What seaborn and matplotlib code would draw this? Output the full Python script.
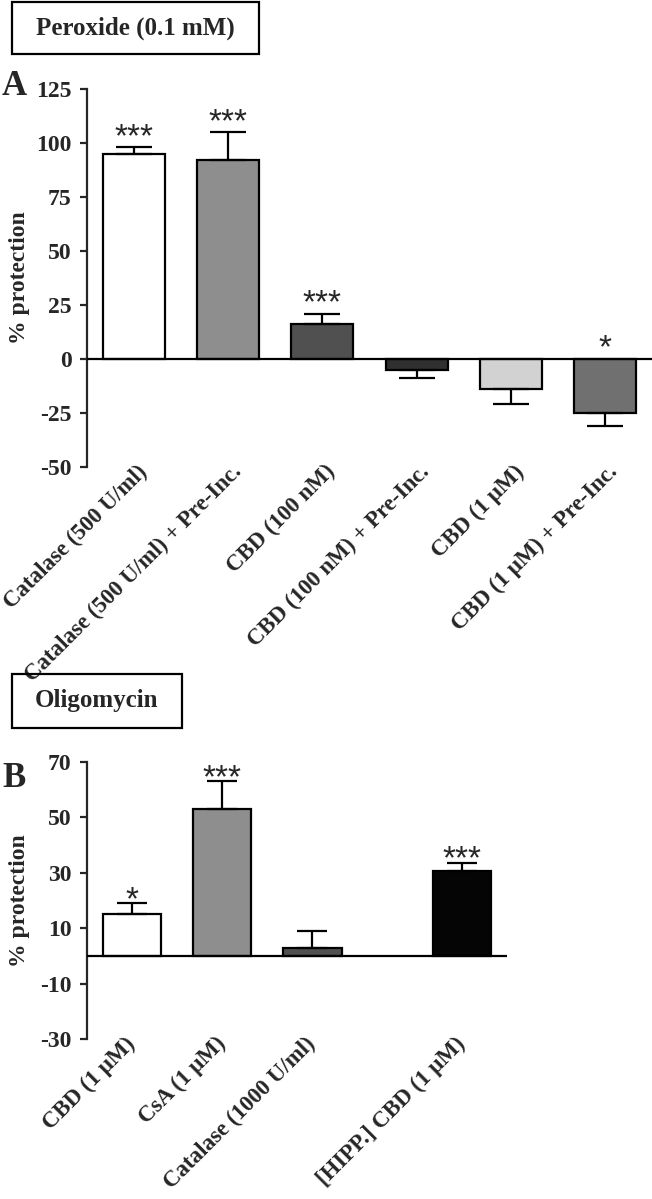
import numpy as np
import pandas as pd
import matplotlib
matplotlib.use("Agg")
import matplotlib.pyplot as plt
import matplotlib.transforms as mtransforms
import seaborn as sns
from matplotlib.patches import Rectangle

# panel A: peroxide (0.1 mM)
a_labels = ["Catalase (500 U/ml)", "Catalase (500 U/ml) + Pre-Inc.", "CBD (100 nM)",
            "CBD (100 nM) + Pre-Inc.", "CBD (1 \u03bcM)", "CBD (1 \u03bcM) + Pre-Inc."]
a_values = [95, 92, 16, -5, -14, -25]
a_errors = [3, 13, 5, 4, 7, 6]
a_stars = ["***", "***", "***", "", "", "*"]
a_colors = ["#ffffff", "#8e8e8e", "#505050", "#303030", "#d2d2d2", "#707070"]

# panel B: oligomycin
b_labels = ["CBD (1 \u03bcM)", "CsA (1 \u03bcM)", "Catalase (1000 U/ml)", "[HIPP.] CBD (1 \u03bcM)"]
b_values = [15, 53, 3, 30.5]
b_errors = [4, 10, 6, 3]
b_stars = ["*", "***", "", "***"]
b_colors = ["#ffffff", "#8e8e8e", "#505050", "#050505"]
b_pos = [0, 1, 2, 3.66]

sns.set_style("ticks")
plt.rcParams["font.family"] = ["Liberation Serif", "DejaVu Serif"]
plt.rcParams["font.weight"] = "bold"
plt.rcParams["axes.labelweight"] = "bold"

fig = plt.figure(figsize=(6.52, 11.99), dpi=100)
W, H = 652, 1199
FS = 17


def px_axes(x0, y0, x1, y1):
    return fig.add_axes([x0 / W, 1 - y1 / H, (x1 - x0) / W, (y1 - y0) / H])


def style_axes(ax, ticks, ylim, xlim):
    ax.set_ylim(*ylim)
    ax.set_xlim(*xlim)
    ax.set_yticks(ticks)
    ax.set_yticklabels([str(t) for t in ticks], fontsize=FS, fontweight="bold")
    sns.despine(ax=ax, bottom=True)
    ax.spines["left"].set_linewidth(1.6)
    ax.tick_params(axis="y", length=5, width=1.6, pad=6)
    ax.tick_params(axis="x", length=0, pad=4)
    ax.axhline(0, color="black", lw=1.6, zorder=5)
    ax.set_ylabel("% protection", fontsize=FS, fontweight="bold")
    ax.set_xlabel("")


def set_xlabels(ax, xs, labels, dx):
    ax.set_xticks(xs)
    ax.set_xticklabels(labels, rotation=45, ha="right", va="center",
                       rotation_mode="anchor", fontsize=16.5, fontweight="bold")
    shift = mtransforms.ScaledTranslation(dx, 0.04, fig.dpi_scale_trans)
    for t in ax.get_xticklabels():
        t.set_transform(t.get_transform() + shift)


def draw_errors(ax, xs, vals, errs, capsize):
    lower = [e if v < 0 else 0 for v, e in zip(vals, errs)]
    upper = [e if v >= 0 else 0 for v, e in zip(vals, errs)]
    ax.errorbar(xs, vals, yerr=[lower, upper], fmt="none", ecolor="black",
                elinewidth=1.6, capsize=capsize, capthick=1.6, zorder=4)


def draw_stars(ax, xs, vals, errs, stars, offset):
    for x, v, e, s in zip(xs, vals, errs, stars):
        if not s:
            continue
        base = v + e if v >= 0 else 0
        ax.annotate(s, (x, base), xytext=(0, offset), textcoords="offset points",
                    ha="center", va="baseline", fontsize=24, fontweight="normal",
                    family="Liberation Sans")


# ---- panel A
axA = px_axes(87, 89, 652, 467)
dfA = pd.DataFrame({"label": a_labels, "value": a_values})
sns.barplot(data=dfA, x="label", y="value", hue="label", order=a_labels,
            palette=dict(zip(a_labels, a_colors)), errorbar=None, width=0.66,
            edgecolor="black", linewidth=1.6, legend=False, ax=axA)
xa = np.arange(len(a_labels))
draw_errors(axA, xa, a_values, a_errors, 13)
draw_stars(axA, xa, a_values, a_errors, a_stars, 1)
style_axes(axA, list(range(-50, 126, 25)), (-50, 125), (-0.5, 5.5))
set_xlabels(axA, xa, a_labels, 0.10)
axA.yaxis.set_label_coords(-57 / 565, 0.5)

# ---- panel B
axB = px_axes(87, 762, 507, 1039)
dfB = pd.DataFrame({"pos": b_pos, "label": b_labels, "value": b_values})
sns.barplot(data=dfB, x="pos", y="value", hue="label", native_scale=True,
            palette=dict(zip(b_labels, b_colors)), errorbar=None, width=0.65,
            edgecolor="black", linewidth=1.6, legend=False, ax=axB)
draw_errors(axB, b_pos, b_values, b_errors, 11)
draw_stars(axB, b_pos, b_values, b_errors, b_stars, -4)
style_axes(axB, list(range(-30, 71, 20)), (-30, 70), (-0.5, 4.16))
set_xlabels(axB, b_pos, b_labels, 0.0)
axB.yaxis.set_label_coords(-57 / 420, 0.5)

# ---- boxed titles and panel letters
for (x0, y0, x1, y1), title in [((12, 2, 259, 54), "Peroxide (0.1 mM)"),
                                ((12, 674, 182, 728), "Oligomycin")]:
    fig.patches.append(Rectangle((x0 / W, 1 - y1 / H), (x1 - x0) / W, (y1 - y0) / H,
                                 transform=fig.transFigure, fill=False,
                                 edgecolor="black", linewidth=1.6))
    fig.text((x0 + x1) / 2 / W, 1 - (y0 + y1) / 2 / H, title, ha="center",
             va="center", fontsize=18, fontweight="bold")

fig.text(2 / W, 1 - 95 / H, "A", fontsize=25, fontweight="bold", va="baseline")
fig.text(2 / W, 1 - 787 / H, "B", fontsize=25, fontweight="bold", va="baseline")

fig.savefig("out.png", dpi=100)
